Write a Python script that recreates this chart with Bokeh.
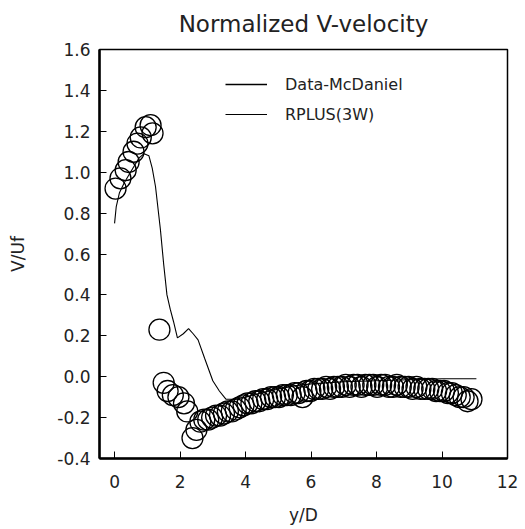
from bokeh.plotting import figure
from bokeh.models import Legend, LegendItem, Range1d, FixedTicker, CustomJSTickFormatter
from bokeh.embed import file_html
from bokeh.resources import INLINE

# Measured data (McDaniel) - circles
data_x = [0.03, 0.18, 0.34, 0.43, 0.58, 0.70, 0.80, 0.95, 1.10, 1.16,
          1.37,
          1.50, 1.62, 1.78, 1.95, 2.12, 2.22, 2.38, 2.50,
          2.62, 2.74, 2.86, 2.98, 3.10, 3.22, 3.34, 3.46, 3.58, 3.70,
          3.82, 3.94, 4.06, 4.18, 4.30, 4.42, 4.54, 4.66, 4.78, 4.90,
          5.02, 5.14, 5.26, 5.38, 5.50, 5.62, 5.74, 5.86, 5.98, 6.10,
          6.22, 6.34, 6.46, 6.58, 6.70, 6.82, 6.94, 7.06, 7.18, 7.30,
          7.42, 7.54, 7.66, 7.78, 7.90, 8.02, 8.14, 8.26, 8.38, 8.50,
          8.62, 8.74, 8.86, 8.98, 9.10, 9.22, 9.34, 9.46, 9.58, 9.70,
          9.82, 9.94, 10.06, 10.18, 10.30, 10.42, 10.54, 10.66, 10.78, 10.90]
data_y = [0.92, 0.97, 1.01, 1.05, 1.10, 1.14, 1.17, 1.22, 1.23, 1.19,
          0.23,
          -0.03, -0.07, -0.09, -0.10, -0.13, -0.17, -0.30, -0.26,
          -0.22, -0.21, -0.21, -0.20, -0.19, -0.19, -0.18, -0.17, -0.17, -0.16,
          -0.15, -0.14, -0.13, -0.13, -0.12, -0.12, -0.11, -0.11, -0.10, -0.10,
          -0.10, -0.09, -0.09, -0.09, -0.08, -0.08, -0.10, -0.07, -0.07, -0.06,
          -0.06, -0.06, -0.05, -0.06, -0.05, -0.05, -0.05, -0.04, -0.05, -0.04,
          -0.04, -0.05, -0.04, -0.04, -0.04, -0.05, -0.04, -0.04, -0.05, -0.05,
          -0.04, -0.05, -0.05, -0.05, -0.06, -0.05, -0.06, -0.06, -0.06, -0.06,
          -0.07, -0.07, -0.07, -0.08, -0.08, -0.09, -0.10, -0.10, -0.12, -0.11]

# RPLUS(3W) computed profile - line
rplus_x = [0.0, 0.05, 0.15, 0.30, 0.45, 0.60, 0.75, 0.90, 1.05, 1.15,
           1.25, 1.40, 1.50, 1.60, 1.70, 1.80, 1.92, 2.10, 2.26, 2.40,
           2.55, 2.75, 3.00, 3.20, 3.40, 3.70, 4.00, 4.50, 5.00, 5.50,
           6.00, 7.00, 8.00, 9.00, 10.00, 11.05]
rplus_y = [0.75, 0.83, 0.90, 0.95, 0.99, 1.03, 1.07, 1.09, 1.08, 1.02,
           0.93, 0.72, 0.55, 0.40, 0.33, 0.27, 0.19, 0.21, 0.235, 0.21,
           0.18, 0.09, -0.02, -0.07, -0.11, -0.11, -0.10, -0.08, -0.06, -0.045,
           -0.035, -0.025, -0.02, -0.015, -0.01, -0.01]

x_ticks = [0, 2, 4, 6, 8, 10, 12]
y_ticks = [-0.4, -0.2, 0.0, 0.2, 0.4, 0.6, 0.8, 1.0, 1.2, 1.4, 1.6]

FONT = "DejaVu Sans"

p = figure(width=525, height=529, output_backend="svg", toolbar_location=None,
           x_range=Range1d(-0.46, 12.0), y_range=Range1d(-0.4, 1.6),
           min_border_left=99, min_border_right=18, min_border_top=49, min_border_bottom=71,
           title="Normalized V-velocity")

p.title.align = "center"
p.title.vertical_align = "top"
p.title.text_font = FONT
p.title.text_font_size = "23px"
p.title.text_font_style = "normal"
p.title.text_color = "#222222"
p.title.padding = 0
p.title.standoff = 21

p.xgrid.visible = False
p.ygrid.visible = False
p.outline_line_color = "black"
p.outline_line_width = 1.5

for ax in (p.xaxis[0], p.yaxis[0]):
    ax.axis_line_width = 2.5
    ax.major_tick_in = 7
    ax.major_tick_out = 0
    ax.minor_tick_in = 0
    ax.minor_tick_out = 0
    ax.major_label_text_font = FONT
    ax.major_label_text_font_size = "17px"
    ax.major_label_text_color = "#222222"
    ax.axis_label_text_font = FONT
    ax.axis_label_text_font_size = "17px"
    ax.axis_label_text_font_style = "normal"
    ax.axis_label_text_color = "#222222"

p.xaxis[0].ticker = FixedTicker(ticks=x_ticks)
p.yaxis[0].ticker = FixedTicker(ticks=y_ticks)
p.yaxis[0].formatter = CustomJSTickFormatter(code="return (Math.abs(tick) < 1e-9 ? 0 : tick).toFixed(1);")
p.xaxis[0].major_label_standoff = 16
p.yaxis[0].major_label_standoff = 9
p.xaxis[0].axis_label = "y/D"
p.yaxis[0].axis_label = "V/Uf"
p.xaxis[0].axis_label_standoff = 14
p.yaxis[0].axis_label_standoff = 26

p.scatter(data_x, data_y, marker="circle", size=21, fill_color=None,
          line_color="black", line_width=1.3)
rl = p.line(rplus_x, rplus_y, line_color="black", line_width=1.1)
dl = p.line([float("nan")], [float("nan")], line_color="black", line_width=1.3)

legend = Legend(items=[LegendItem(label="Data-McDaniel", renderers=[dl]),
                       LegendItem(label="RPLUS(3W)", renderers=[rl])],
                location=(126, 334), glyph_width=42, label_text_font=FONT,
                label_text_font_size="16px", label_text_color="#222222",
                spacing=10, label_standoff=18, border_line_color=None,
                background_fill_alpha=0)
p.add_layout(legend)

open("out.html", "w").write(file_html(p, INLINE))
